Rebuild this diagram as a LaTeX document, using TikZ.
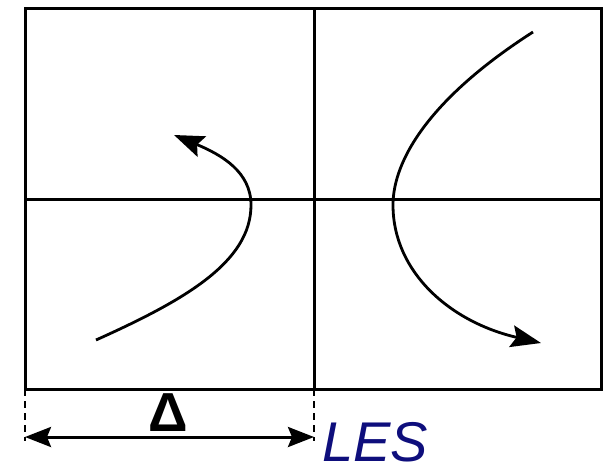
\documentclass[tikz,border=0pt]{standalone}
\usepackage{fontspec}
\setmainfont{Liberation Sans}
\usetikzlibrary{arrows.meta}
\definecolor{lesblue}{RGB}{14,14,124}
\tikzstyle{frame}=[line width=3pt, black]
\tikzstyle{traj}=[line width=2.8pt, black, -{Stealth[length=30pt,width=22pt,inset=5pt]}]
\tikzstyle{guide}=[line width=1.4pt, dashed, dash pattern=on 7pt off 5pt]
\tikzstyle{span}=[line width=3pt, {Stealth[length=26pt,width=20pt,inset=4pt]}-{Stealth[length=26pt,width=20pt,inset=4pt]}]

\begin{document}
\begin{tikzpicture}[x=1pt, y=-1pt]
				\useasboundingbox (0,0) rectangle (604,463);
				% box and axes
				\draw[frame] (25,8) rectangle (601,389);
				\draw[frame] (314,8) -- (314,389);
				\draw[frame] (25,199) -- (601,199);

				% trajectories
				\draw[traj] (96,340) .. controls (185,300) and (251,262) .. (251,205)
				            .. controls (251,172) and (222,155) .. (174,135);
				\draw[traj] (533,32) .. controls (430,98) and (393,160) .. (393,205)
				            .. controls (393,272) and (450,322) .. (541,343);

				% width of the filter
				\coordinate (dl) at (25,437);
				\coordinate (dr) at (314,437);
				\draw[guide] (25,389) -- (25,441);
				\draw[guide] (314,389) -- (314,441);
				\draw[span] (dl) -- (dr);
				\node[anchor=base, inner sep=0pt] (delta) at (168,431) {\fontsize{55}{55}\selectfont\bfseries Δ};
				\node[text=lesblue, anchor=base west, inner sep=0pt] (les) at (322,461) {\fontsize{56}{56}\selectfont\itshape LES};
\end{tikzpicture}
\end{document}
